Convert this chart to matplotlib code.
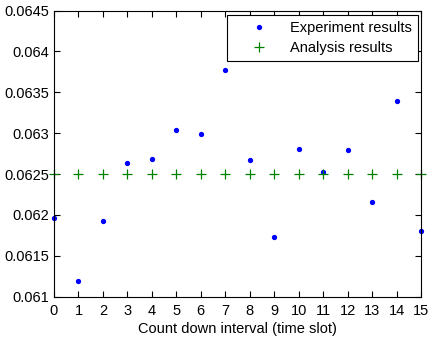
import matplotlib
matplotlib.use("Agg")
import matplotlib.pyplot as plt

interval = list(range(16))
experiment = [0.06196, 0.06119, 0.06192, 0.06263, 0.06269, 0.06304, 0.06299, 0.06377,
              0.06267, 0.06173, 0.06281, 0.06253, 0.06280, 0.06216, 0.06339, 0.06180]
analysis = [0.0625] * 16
yticks = [0.061, 0.0615, 0.062, 0.0625, 0.063, 0.0635, 0.064, 0.0645]

plt.rcParams['font.family'] = ['Liberation Sans', 'DejaVu Sans']

fig = plt.figure(figsize=(4.28, 3.38), dpi=100)
ax = fig.add_axes([54 / 428, 1 - 296.7 / 338, (421 - 54) / 428, (296.7 - 10.5) / 338])

ax.plot(interval, experiment, linestyle='none', marker='o', markersize=2.8,
        color=(0, 0, 1), label='Experiment results', clip_on=False)
ax.plot(interval, analysis, linestyle='none', marker='+', markersize=6.5, markeredgewidth=0.9,
        color=(0, 0.5, 0), label='Analysis results', clip_on=False)

ax.set_xlim(0, 15)
ax.set_ylim(0.061, 0.0645)
ax.set_xticks(interval)
ax.set_yticks(yticks)
ax.set_yticklabels([f'{v:g}' for v in yticks])
ax.tick_params(direction='in', top=True, right=True, length=4, labelsize=10.5, width=0.8)
ax.tick_params(axis='x', pad=5)
for s in ax.spines.values():
    s.set_linewidth(0.8)
ax.set_xlabel('Count down interval (time slot)', fontsize=10.5, labelpad=3)

leg = ax.legend(loc='upper right', bbox_to_anchor=(417.7 / 428, 1 - 15 / 338),
                bbox_transform=fig.transFigure, fontsize=10.5, frameon=True, fancybox=False,
                edgecolor='black', framealpha=1, borderaxespad=0, handletextpad=0.3,
                handlelength=3.6, borderpad=0.4, labelspacing=0.45)
leg.get_frame().set_linewidth(0.8)

fig.savefig('out.png', dpi=100)
